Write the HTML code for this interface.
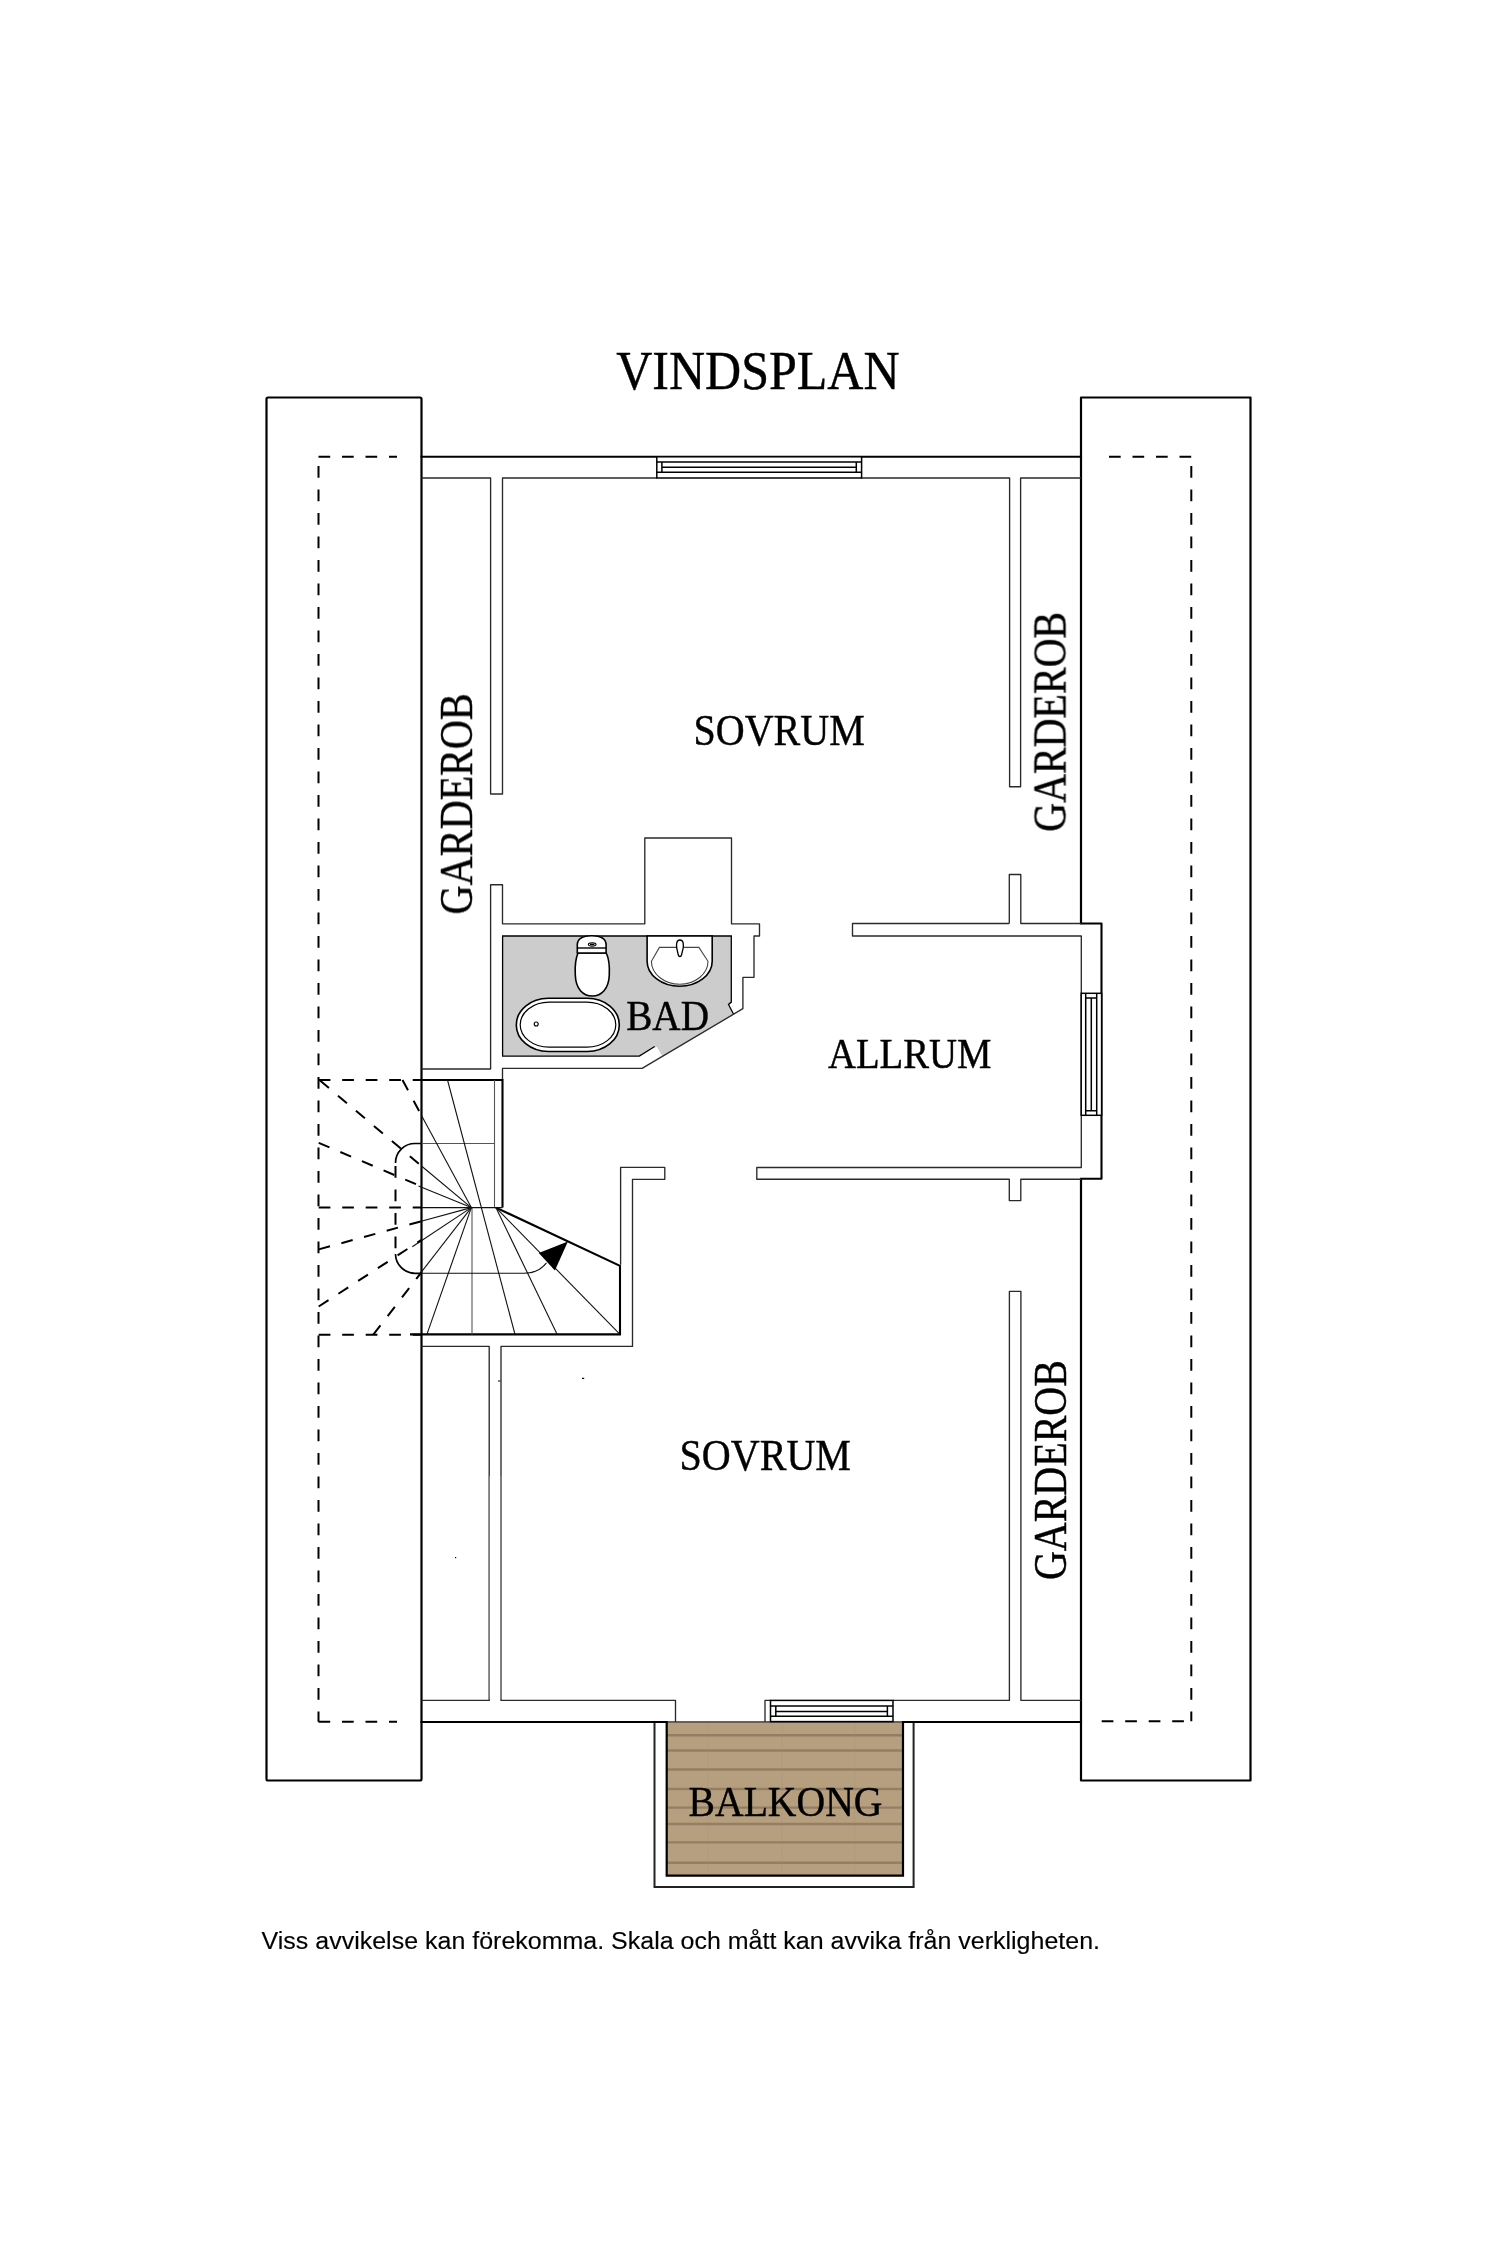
<!DOCTYPE html>
<html><head><meta charset="utf-8">
<style>
html,body{margin:0;padding:0;background:#fff;}
body{width:1500px;height:2250px;overflow:hidden;position:relative;}
svg{position:absolute;left:0;top:0;}
.t{font-family:"Liberation Serif",serif;fill:#000;stroke:#000;stroke-width:0.45px;}
.f{font-family:"Liberation Sans",sans-serif;fill:#000;stroke:#000;stroke-width:0.15px;}
</style></head>
<body>
<svg width="1500" height="2250" viewBox="0 0 1500 2250">
<defs>
<pattern id="wood" patternUnits="userSpaceOnUse" x="0" y="1722" width="400" height="400">
  <rect width="400" height="400" fill="#b59f7f"/>
</pattern>
<filter id="soft" x="-5%" y="-50%" width="110%" height="200%"><feGaussianBlur stdDeviation="0.6"/></filter>
</defs>
<rect width="1500" height="2250" fill="#fff"/>

<!-- TITLE -->
<g opacity="0.999"><text class="t" x="616.2" y="388.6" font-size="54" textLength="283.3" lengthAdjust="spacingAndGlyphs">VINDSPLAN</text></g>

<!-- OUTER ROOF RECTS -->
<g fill="none" stroke="#000" stroke-width="2.2" stroke-linejoin="round">
  <rect x="266.5" y="397.5" width="155" height="1383" rx="1.5"/>
  <path d="M1081,923.5 V397.5 H1250.5 V1780.5 H1081 V1178.7"/>
</g>

<!-- DASHED -->
<g fill="none" stroke="#000" stroke-width="2" stroke-dasharray="11.7 11.8">
  <path d="M318.5,456.7 H397"/>
  <path d="M318.5,466 V1721.8"/>
  <path d="M318.5,1721.8 H397"/>
  <path d="M1109,456.7 H1191.3"/>
  <path d="M1191.3,466 V1721.3"/>
  <path d="M1101.7,1721.3 H1191.3"/>
</g>

<!-- BAD GRAY FLOOR -->
<path d="M502.6,936 H731.3 V1002.1 L728.5,1004.5 L733.6,1014.2 L660.3,1057.6 L654.7,1046.5 L639.3,1056.1 H502.6 Z" fill="#cccccc"/>
<path d="M733.6,1014.2 L728.5,1004.5 L731.3,1002.1 V936 H502.6 V1056.1 H639.3 L654.7,1046.5" fill="none" stroke="#000" stroke-width="1.3"/>
<path d="M655.8,1047.2 L661.5,1057" stroke="#fff" stroke-width="2.2"/>

<!-- BALCONY -->
<path d="M654.5,1722 V1887 H913.6 V1722" fill="none" stroke="#222" stroke-width="2"/>
<rect x="666.7" y="1722" width="236.3" height="153.7" fill="url(#wood)"/>
<g stroke="#8f7b60" stroke-width="2.4" opacity="0.9" filter="url(#soft)">
  <path d="M667,1735.3 H903"/><path d="M667,1750.5 H903"/><path d="M667,1769.5 H903"/>
  <path d="M667,1789 H903"/><path d="M667,1807.6 H903"/><path d="M667,1824 H903"/>
  <path d="M667,1842.4 H903"/><path d="M667,1862.7 H903"/>
</g>
<g stroke="#a08c6e" stroke-width="1" opacity="0.25"><path d="M707.7,1722 V1875"/><path d="M782,1722 V1875"/><path d="M854.6,1722 V1875"/></g>
<path d="M666.7,1722 V1875.7 H903 V1722" fill="none" stroke="#000" stroke-width="2.2"/>
<path d="M666.7,1722 H903" stroke="#6d6050" stroke-width="2"/>

<!-- THICK OUTER WALL LINES -->
<g fill="none" stroke="#000" stroke-width="2.1" stroke-linecap="square">
  <path d="M421.5,456.8 H1081"/>
  <path d="M421.5,1722 H666.7"/>
  <path d="M903,1722 H1081"/>
  <path d="M1081,923.5 H1101.5 V1178.7 H1081" stroke-linejoin="round"/>
</g>

<!-- INNER WALL LINES -->
<g fill="none" stroke="#2a2a2a" stroke-width="1.35" stroke-linejoin="round">
  <!-- top inner -->
  <path d="M421.5,478 H490.6 V794 H502.5 V478 H656.8"/>
  <path d="M861.6,478 H1009.6 V786.7 H1020.6 V478 H1081"/>
  <!-- left garderob lower stub + bad outer wall -->
  <path d="M421.5,1069 H490.6 V884.7 H502.5 V923.8 H644.8 V838 H731.5 V923.8 H759.5 V936 H754 V977.3 H742.9 V1008.7 L642.1,1068.4 H502.5 V1080"/>
  <!-- allrum walls -->
  <path d="M1009.3,923.5 V874.5 H1020.8 V923.5 H1081"/>
  <path d="M1009.3,923.5 H852.5 V936 H1081.3 V1167.5 H756.8 V1179.2 H1009.3 V1200.6 H1020.8 V1179.2 H1081"/>
  <!-- stair enclosing wall -->
  <path d="M620.6,1264.7 V1167.3 H664.8 V1179.3 H632.5 V1346.4 H501 V1700.4 H675.5 V1722"/>
  <path d="M421.5,1346.4 H489.2 V1700.4 H421.5"/>
  <!-- bottom right -->
  <path d="M765,1722 V1700.4 H770.7"/>
  <path d="M893,1700.4 H1009.4 V1291.3 H1020.9 V1700.4 H1081"/>
</g>

<g stroke="#888" stroke-width="1.3"><path d="M489.2,1476 V1699"/><path d="M500.9,1476 V1699"/></g>
<g fill="#000"><rect x="582" y="1377.8" width="2.2" height="1.2"/><rect x="455" y="1557" width="1.2" height="1.2"/><rect x="498" y="1380.5" width="2.5" height="1"/></g>
<!-- WINDOWS -->
<g fill="#fff" stroke="#000" stroke-width="1.5">
  <rect x="656.8" y="456.8" width="204.8" height="21.2"/>
  <path d="M656.8,461.9 H861.6 M656.8,472.3 H861.6 M661.9,461.9 V472.3 M856.3,461.9 V472.3 M661.9,467.2 H856.3" fill="none"/>
  <rect x="770.5" y="1700.4" width="122.5" height="21.2"/>
  <path d="M770.5,1705.9 H893 M770.5,1716.2 H893 M775.8,1705.9 V1716.2 M887.4,1705.9 V1716.2 M775.8,1711.4 H887.4" fill="none"/>
  <rect x="1081.2" y="993.3" width="20.4" height="122"/>
  <path d="M1085.7,993.3 V1115.3 M1096.7,993.3 V1115.3 M1085.7,998 H1096.7 M1085.7,1110.7 H1096.7 M1091.3,998 V1110.7" fill="none"/>
</g>

<!-- STAIRCASE -->
<g fill="none" stroke="#000" stroke-width="2.1">
  <path d="M421.5,1080 H502.5 V1207.6"/>
  <path d="M410,1334.4 H620 V1265.9 L495.9,1207.6"/>
</g>
<g fill="none" stroke="#555" stroke-width="1.1">
  <path d="M494.5,1080 V1207.6"/>
  <path d="M421.5,1143.5 H494.5"/>
  <path d="M472,1207.6 V1334.4"/>
</g>
<g fill="none" stroke="#111" stroke-width="1.1">
  <path d="M421.5,1207.6 H502.5"/>
  <path d="M471.3,1207.6 L421.5,1115.5"/>
  <path d="M471.3,1207.6 L421.5,1166"/>
  <path d="M471.3,1207.6 L418.5,1186"/>
  <path d="M471.3,1207.6 L418.5,1222"/>
  <path d="M471.3,1207.6 L412.3,1246.7"/>
  <path d="M471.3,1207.6 L416,1279"/>
  <path d="M471.3,1207.6 L426.9,1334.4"/>
  <path d="M447.5,1080 L515,1334.4"/>
  <path d="M495.9,1207.6 L557.2,1334.4"/>
  <path d="M495.9,1207.6 L620,1334.4"/>
</g>
<!-- dashed projection -->
<g fill="none" stroke="#000" stroke-width="2" stroke-dasharray="11.7 11.8">
  <path d="M318.7,1080 H421.5"/>
  <path d="M318.7,1334.7 H421.5"/>
  <path d="M318.7,1207.6 H421.5"/>
  <path d="M402.5,1080 L421.5,1115.5"/>
  <path d="M320,1080.5 L421.5,1166"/>
  <path d="M318.7,1142.8 L421.5,1186.5"/>
  <path d="M318.7,1249.4 L421.5,1221.2"/>
  <path d="M318.7,1306.5 L421.5,1239.9"/>
  <path d="M373.3,1334.7 L421.5,1272.2"/>
  <path d="M395.5,1166 V1254"/>
</g>
<!-- handrail -->
<g fill="none" stroke="#000" stroke-width="1.7">
  <path d="M421.5,1143.5 H415 A19.5,19.5 0 0 0 395.5,1163"/>
  <path d="M395.5,1254 A19.5,19.5 0 0 0 415,1273.3 H421.5"/>
</g>
<path d="M421.5,1273.3 H524 Q538,1273.3 546.5,1262.8" fill="none" stroke="#111" stroke-width="1.1"/>
<path d="M538.8,1252.9 L567.9,1241.4 L554.9,1270.5 Z" fill="#000"/>

<!-- BATHROOM FIXTURES -->
<g stroke="#000" stroke-width="1.6" fill="#fff">
  <!-- bathtub -->
  <rect x="516.3" y="998.3" width="103" height="53.2" rx="32" ry="26.6"/>
  <rect x="520.2" y="1002.2" width="95.6" height="45" rx="29" ry="22.5" stroke-width="1.2"/>
  <circle cx="536.2" cy="1024" r="2" stroke-width="1.1"/>
  <!-- toilet -->
  <path d="M578,953 C574.5,961 575,969 575.3,975 C575.8,989 583,996 592.3,996 C601.5,996 608.7,989 609.3,975 C609.6,969 610,961 606.3,953 Z"/>
  <path d="M577.3,953 V945 C577.3,938 583,935.7 591.7,935.7 C600.5,935.7 606.1,938 606.1,945 V953 Z"/>
  <path d="M577.3,948 H606.1" fill="none" stroke-width="1.4"/>
  <ellipse cx="592.2" cy="944.5" rx="3.8" ry="1.6" stroke-width="1.1"/>
  <path d="M590,944.5 H594.4" stroke-width="1.2"/>
  <!-- sink -->
  <path d="M647.1,936 H712.2 V961.3 A32.55,25 0 0 1 647.1,961.3 Z"/>
  <path d="M659.4,947.4 H698.9 L708,961.3 A28.3,23 0 0 1 651.4,961.3 Z" stroke="#444" stroke-width="1.1"/>
  <path d="M679.9,940 C683.5,940 683.6,944 683.2,948 L681.5,955 C681,957 678.8,957 678.3,955 L676.7,948 C676.3,944 676.4,940 679.9,940 Z" stroke-width="1.3"/>
</g>

<!-- LABELS -->
<g opacity="0.999">
<text class="t" x="693.5" y="744.7" font-size="44.5" textLength="171.3" lengthAdjust="spacingAndGlyphs">SOVRUM</text>
<text class="t" x="679.6" y="1470.3" font-size="44.5" textLength="171.4" lengthAdjust="spacingAndGlyphs">SOVRUM</text>
<text class="t" x="828.0" y="1067.5" font-size="43" textLength="163.4" lengthAdjust="spacingAndGlyphs">ALLRUM</text>
<text class="t" x="626.2" y="1030.4" font-size="42" textLength="82.8" lengthAdjust="spacingAndGlyphs">BAD</text>
<text class="t" x="688.6" y="1816.3" font-size="42.5" textLength="193.8" lengthAdjust="spacingAndGlyphs">BALKONG</text>
<text class="t" font-size="46" textLength="221.2" lengthAdjust="spacingAndGlyphs" transform="translate(472.0,914.4) rotate(-90)">GARDEROB</text>
<text class="t" font-size="46" textLength="220.0" lengthAdjust="spacingAndGlyphs" transform="translate(1065.5,831.8) rotate(-90)">GARDEROB</text>
<text class="t" font-size="46" textLength="219.8" lengthAdjust="spacingAndGlyphs" transform="translate(1066.0,1580.0) rotate(-90)">GARDEROB</text>

<text class="f" x="261.6" y="1948.9" font-size="24.7" textLength="838.4" lengthAdjust="spacingAndGlyphs">Viss avvikelse kan förekomma. Skala och mått kan avvika från verkligheten.</text>
</g>

</svg>
</body></html>
